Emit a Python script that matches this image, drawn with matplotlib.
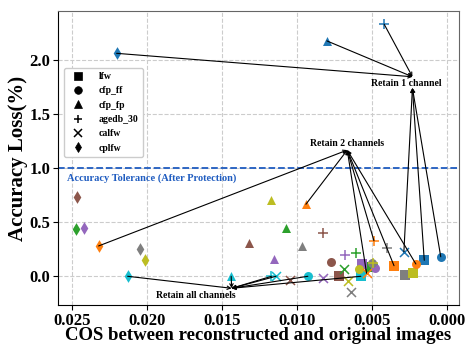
import matplotlib
matplotlib.use('Agg')
import matplotlib.pyplot as plt
from matplotlib.lines import Line2D

plt.rcParams['font.family'] = ['Liberation Serif', 'DejaVu Serif']
plt.rcParams['font.weight'] = 'bold'
plt.rcParams['axes.labelweight'] = 'bold'

# colour of each setting (tab10 subset)
COLORS = ['tab:blue', 'tab:orange', 'tab:green', 'tab:purple',
          'tab:brown', 'tab:gray', 'tab:olive', 'tab:cyan']

DATASETS = ['lfw', 'cfp_ff', 'cfp_fp', 'agedb_30', 'calfw', 'cplfw']
MARKERS = ['s', 'o', '^', '+', 'x', 'd']

# x = COS, y = accuracy loss (%), one value per colour above
lfw_x = [0.0015, 0.00352, 0.0051, 0.00564, 0.0072, 0.00277, 0.00224, 0.00573]
lfw_y = [0.148, 0.098, 0.09, 0.114, 0.0, 0.012, 0.028, 0.0]
cfp_ff_x = [0.0004, 0.00206, 0.0049, 0.00479, 0.00773, 0.00501, 0.00586, 0.00927]
cfp_ff_y = [0.181, 0.114, 0.10, 0.08, 0.135, 0.12, 0.068, 0.0]
cfp_fp_x = [0.0080, 0.0094, 0.01075, 0.01156, 0.01322, 0.00969, 0.01174, 0.01439]
cfp_fp_y = [2.18, 0.667, 0.45, 0.163, 0.306, 0.28, 0.706, 0.0]
agedb_x = [0.00417, 0.00486, 0.00608, 0.0068, 0.00829, 0.00397, 0.00491, 0.0117]
agedb_y = [2.333, 0.33, 0.213, 0.196, 0.398, 0.265, 0.125, 0.0]
calfw_x = [0.00286, 0.00535, 0.00684, 0.00824, 0.01047, 0.0064, 0.00658, 0.0114]
calfw_y = [0.228, 0.028, 0.065, -0.019, -0.034, -0.15, -0.04, 0.0]
cplfw_x = [0.02204, 0.02324, 0.02473, 0.02424, 0.02469, 0.02048, 0.02015, 0.0213]
cplfw_y = [2.065, 0.281, 0.435, 0.447, 0.731, 0.25, 0.148, 0.0]

all_x = [lfw_x, cfp_ff_x, cfp_fp_x, agedb_x, calfw_x, cplfw_x]
all_y = [lfw_y, cfp_ff_y, cfp_fp_y, agedb_y, calfw_y, cplfw_y]

# label text position, arrow end above / below the text, colour index it points at
ANNOTS = [
    ('Retain 1 channel', (0.00268, 1.79), (0.00229, 1.848), (0.00229, 1.744), 0),
    ('Retain 2 channels', (0.00664, 1.233), (0.00664, 1.30), (0.00664, 1.169), 1),
    ('Retain all channels', (0.01674, -0.18), (0.01436, -0.111), (0.01436, -0.111), 7),
]
TOLERANCE = 1.0

fig = plt.figure(figsize=(4.66, 3.47), dpi=100)
ax = fig.add_axes([0.1245, 0.121, 0.8605, 0.847])

for xs, ys, mk in zip(all_x, all_y, MARKERS):
    for i in range(len(xs)):
        lw = 1.1 if mk in ('+', 'x') else 0
        ax.scatter(xs[i], ys[i], marker=mk, color=COLORS[i], s=42, linewidths=lw, zorder=3)

for text, tpos, top_end, bot_end, ci in ANNOTS:
    ax.text(tpos[0], tpos[1], text, ha='center', va='center', fontsize=7, zorder=5)
    for xs, ys in zip(all_x, all_y):
        end = top_end if ys[ci] > tpos[1] else bot_end
        ax.annotate('', xy=end, xytext=(xs[ci], ys[ci]),
                    arrowprops=dict(arrowstyle='->', color='black', lw=0.8,
                                    shrinkA=0, shrinkB=0, mutation_scale=6),
                    zorder=4)

ax.axhline(TOLERANCE, color='#1f5cc0', linestyle='--', lw=1.3, zorder=2)
ax.text(0.02535, 0.955, 'Accuracy Tolerance (After Protection)', color='#1f5cc0',
        fontsize=7.5, ha='left', va='top')

ax.set_xlim(0.02595, -0.00082)
ax.set_ylim(-0.266, 2.456)
ax.set_xticks([0.025, 0.020, 0.015, 0.010, 0.005, 0.000])
ax.set_xticklabels(['0.025', '0.020', '0.015', '0.010', '0.005', '0.000'])
ax.set_yticks([0.0, 0.5, 1.0, 1.5, 2.0])
ax.tick_params(labelsize=12, pad=2)
for lab in ax.get_xticklabels() + ax.get_yticklabels():
    lab.set_fontweight('bold')
ax.grid(True, linestyle='--', color='#cccccc', lw=0.8)
ax.set_axisbelow(True)
for side in ['top', 'right']:
    ax.spines[side].set_color('#666666')

ax.set_xlabel('COS between reconstructed and original images', fontsize=13.5,
              fontweight='bold', labelpad=-1)
ax.set_ylabel('Accuracy Loss(%)', fontsize=15, fontweight='bold', labelpad=1)

handles = [Line2D([], [], marker=m, color='black', linestyle='none', markersize=5.5,
                  markeredgewidth=1.1 if m in ('+', 'x') else 0.5) for m in MARKERS]
ax.legend(handles, DATASETS, loc='upper left', bbox_to_anchor=(0.015, 0.806),
          borderaxespad=0, prop={'size': 7, 'weight': 'bold'}, handletextpad=1.2,
          labelspacing=0.55, framealpha=1, edgecolor='#cccccc')

fig.savefig('out.png', dpi=100)
